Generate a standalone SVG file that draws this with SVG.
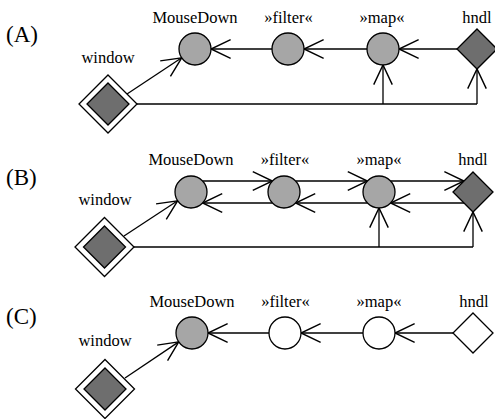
<svg xmlns="http://www.w3.org/2000/svg" width="495" height="419" viewBox="0 0 495 419">
<defs>
<style>
text{font-family:"Liberation Serif","DejaVu Serif",serif;fill:#000}
.lbl{font-size:16.5px;text-anchor:middle}
.pan{font-size:23px}
.c{stroke:#000;stroke-width:1.3}
.g{fill:#a6a6a6}
.w{fill:#fff}
.d{fill:#6e6e6e}
.ln{fill:none;stroke:#000;stroke-width:1.3;marker-end:url(#ah)}
.pl{fill:none;stroke:#000;stroke-width:1.3}
</style>
<marker id="ah" markerUnits="userSpaceOnUse" markerWidth="24" markerHeight="24" viewBox="-20 -10 22 20" refX="0" refY="0" orient="auto">
<path d="M-18,-8.5 L0,0 L-18,8.5" fill="none" stroke="#000" stroke-width="1.3"/>
</marker>
</defs>
<g id="panel-labels">
<text class="pan" x="6" y="42">(A)</text>
<text class="pan" x="6" y="185">(B)</text>
<text class="pan" x="6" y="324">(C)</text>
</g>
<g id="connectors">
<!-- A -->
<line class="ln" x1="127" y1="94" x2="181.7" y2="57.8"/>
<line class="ln" x1="457" y1="49" x2="399" y2="49"/>
<line class="ln" x1="367" y1="49" x2="304" y2="49"/>
<line class="ln" x1="272" y1="49" x2="211" y2="49"/>
<path class="pl" d="M137,104 H477"/>
<line class="ln" x1="383" y1="104" x2="383" y2="65"/>
<line class="ln" x1="477" y1="104" x2="477" y2="69"/>
<!-- B -->
<line class="ln" x1="124" y1="236" x2="177.6" y2="200.8"/>
<line class="ln" x1="202.6" y1="181" x2="272.4" y2="181"/>
<line class="ln" x1="295.6" y1="181" x2="367.4" y2="181"/>
<line class="ln" x1="390.6" y1="181" x2="464" y2="181"/>
<line class="ln" x1="464" y1="203" x2="390.6" y2="203"/>
<line class="ln" x1="367.4" y1="203" x2="295.6" y2="203"/>
<line class="ln" x1="272.4" y1="203" x2="202.6" y2="203"/>
<path class="pl" d="M134,247 H473"/>
<line class="ln" x1="379" y1="247" x2="379" y2="208"/>
<line class="ln" x1="473" y1="247" x2="473" y2="212"/>
<!-- C -->
<line class="ln" x1="125" y1="378" x2="178.7" y2="341.9"/>
<line class="ln" x1="453" y1="333" x2="395" y2="333"/>
<line class="ln" x1="363" y1="333" x2="301" y2="333"/>
<line class="ln" x1="269" y1="333" x2="208" y2="333"/>
</g>
<!-- Panel A nodes -->
<g id="A-window">
<polygon class="c w" points="108,75 137,104 108,133 79,104"/>
<polygon class="c d" points="108,83 129,104 108,125 87,104"/>
<text class="lbl" x="108" y="63">window</text>
</g>
<g id="A-mousedown">
<circle class="c g" cx="195" cy="49" r="16"/>
<text class="lbl" x="195" y="23">MouseDown</text>
</g>
<g id="A-filter">
<circle class="c g" cx="288" cy="49" r="16"/>
<text class="lbl" x="288.5" y="23">»filter«</text>
</g>
<g id="A-map">
<circle class="c g" cx="383" cy="49" r="16"/>
<text class="lbl" x="382" y="23">»map«</text>
</g>
<g id="A-hndl">
<polygon class="c d" points="477,29 497,49 477,69 457,49"/>
<text class="lbl" x="477" y="23">hndl</text>
</g>
<!-- Panel B nodes -->
<g id="B-window">
<polygon class="c w" points="104.5,217.5 134,247 104.5,276.5 75,247"/>
<polygon class="c d" points="104.5,226 125.5,247 104.5,268 83.5,247"/>
<text class="lbl" x="105" y="205">window</text>
</g>
<g id="B-mousedown">
<circle class="c g" cx="191" cy="192" r="16"/>
<text class="lbl" x="191" y="165">MouseDown</text>
</g>
<g id="B-filter">
<circle class="c g" cx="284" cy="192" r="16"/>
<text class="lbl" x="285" y="165">»filter«</text>
</g>
<g id="B-map">
<circle class="c g" cx="379" cy="192" r="16"/>
<text class="lbl" x="379" y="165">»map«</text>
</g>
<g id="B-hndl">
<polygon class="c d" points="473,172 493,192 473,212 453,192"/>
<text class="lbl" x="473" y="165">hndl</text>
</g>
<!-- Panel C nodes -->
<g id="C-window">
<polygon class="c w" points="105,359.5 134.5,389 105,418.5 75.5,389"/>
<polygon class="c d" points="105,368 126,389 105,410 84,389"/>
<text class="lbl" x="105" y="346">window</text>
</g>
<g id="C-mousedown">
<circle class="c g" cx="192" cy="333" r="16"/>
<text class="lbl" x="192" y="307">MouseDown</text>
</g>
<g id="C-filter">
<circle class="c w" cx="285" cy="333" r="16"/>
<text class="lbl" x="285.5" y="307">»filter«</text>
</g>
<g id="C-map">
<circle class="c w" cx="379" cy="333" r="16"/>
<text class="lbl" x="379" y="307">»map«</text>
</g>
<g id="C-hndl">
<polygon class="c w" points="473,313 493,333 473,353 453,333"/>
<text class="lbl" x="474" y="307">hndl</text>
</g>
</svg>
